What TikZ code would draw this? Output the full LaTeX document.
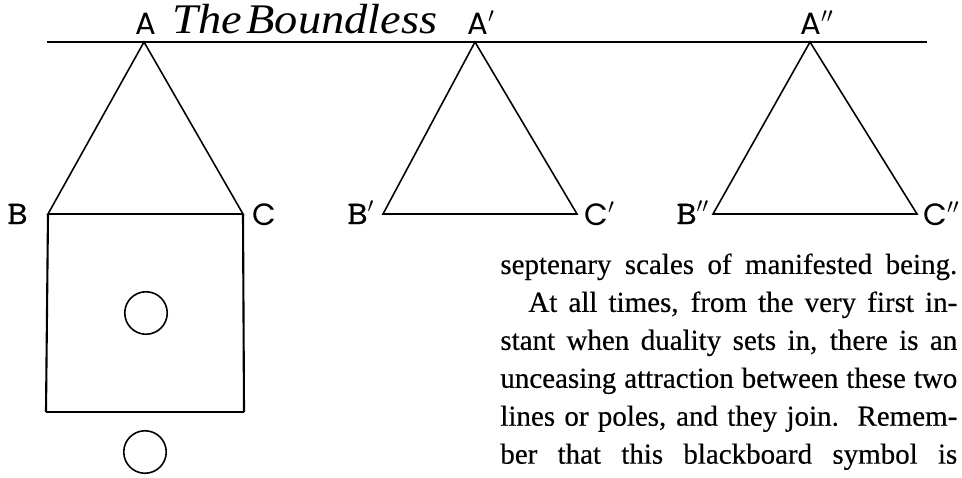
\documentclass[tikz,border=0pt]{standalone}
\usepackage{fontspec}
\setmainfont{Liberation Serif}
\newfontfamily\bodyfont[FakeBold=0.4]{Liberation Serif}
\newfontfamily\vertexfont{Poppins}
\newfontfamily\slabfont[FakeBold=1.2]{Latin Modern Mono}
\usetikzlibrary{positioning}

\tikzstyle{edge}     = [line width=0.9pt, draw=black]
\tikzstyle{wall}     = [line width=1.2pt, draw=black]
\tikzstyle{vlabel}   = [inner sep=0pt, anchor=base west,
                        font=\vertexfont\fontsize{17.5}{20}\selectfont]
\tikzstyle{blabel}   = [inner sep=0pt, anchor=base west,
                        font=\slabfont\fontsize{18.7}{22}\selectfont]
\tikzstyle{titlelbl} = [inner sep=0pt, anchor=base west,
                        font=\itshape\fontsize{24}{28}\selectfont]
\tikzstyle{orb}      = [circle, draw, line width=0.9pt, inner sep=0pt,
                        minimum size=0.85cm]
\tikzstyle{bodytext} = [inner sep=0pt, anchor=north west, text width=9.14cm,
                        align=justify, font=\bodyfont\fontsize{16.5}{21.6}\selectfont]

\newcommand{\slabB}{\scalebox{1.2}[1]{B}}

\begin{document}
\begin{tikzpicture}[x=0.02cm, y=-0.02cm]
  \useasboundingbox (0,0) rectangle (962,477);

  %% Boundless line
  \coordinate (lineL) at (47,42);
  \coordinate (lineR) at (927,42);
  \draw[edge] (lineL) -- (lineR);

  %% Triangle vertices
  \coordinate (A)   at (144,42);
  \coordinate (B)   at (48,214);
  \coordinate (C)   at (243,214);
  \coordinate (A1)  at (475,42);
  \coordinate (B1)  at (383,214);
  \coordinate (C1)  at (577,214);
  \coordinate (A2)  at (810,42);
  \coordinate (B2)  at (713,214);
  \coordinate (C2)  at (917,214);

  %% Square below the first triangle
  \coordinate (D) at (46,412);
  \coordinate (E) at (244,412);

  %% Triangles
  \draw[edge] (A) -- (B) -- (C) -- cycle;
  \draw[edge] (A1) -- (B1) -- (C1) -- cycle;
  \draw[edge] (A2) -- (B2) -- (C2) -- cycle;
  \draw[wall] (B) -- (D);
  \draw[wall] (C) -- (E);
  \draw[edge] (D) -- (E);

  %% Circles
  \node[orb] (orbin)  at (146,313) {};
  \node[orb] (orbout) at (145,452) {};

  %% Labels
  \node[vlabel] (lA)  at (135,34)  {A};
  \node[titlelbl] (title) at (172,33)
        {\scalebox{1.1}[1]{The\hspace{0.1em}Boundless}};
  \node[vlabel] (lA1) at (467,34)  {A$'$};
  \node[vlabel] (lA2) at (800,34)  {A$''$};
  \node[blabel] (lB)  at (7,224)   {\slabB};
  \node[vlabel] (lC)  at (252,225) {C};
  \node[blabel] (lB1) at (347,224) {\slabB$'$};
  \node[vlabel] (lC1) at (584,225) {C$'$};
  \node[blabel] (lB2) at (676,224) {\slabB$''$};
  \node[vlabel] (lC2) at (923,225) {C$''$};

  %% Running text
  \node[bodytext] (para) at (500,247)
        {\parindent=0pt\parfillskip=0pt\hyphenpenalty=10000\strut
         septenary scales of manifested being.\par
         \hspace*{0.56cm}At all times, from the very first in-\linebreak
         stant when duality sets in, there is an\linebreak
         unceasing attraction between these two\linebreak
         lines or poles, and they join.\ \ Remem-\linebreak
         ber that this blackboard symbol is\par};

\end{tikzpicture}
\end{document}
